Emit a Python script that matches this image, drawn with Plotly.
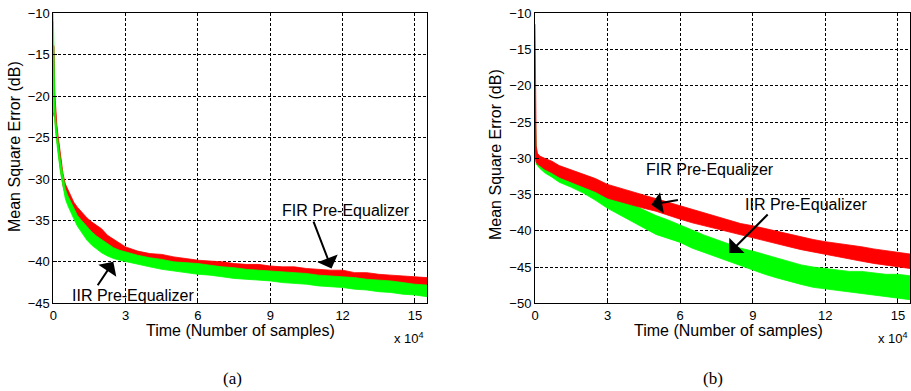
import plotly.graph_objects as go

W, H = 911, 391

# ---------- data (x in units of 10^4 samples, y in dB) ----------
a_x = [0, 0.03, 0.06, 0.1, 0.15, 0.2, 0.3, 0.4, 0.5, 0.6, 0.7, 0.85, 1.0, 1.2, 1.4, 1.6, 1.8, 2.0,
       2.25, 2.5, 2.75, 3.0, 3.5, 4.0, 4.5, 5.0, 5.5, 6.0, 6.5, 7.0, 7.5, 8.0, 8.5, 9.0, 9.5, 10.0,
       10.5, 11.0, 11.5, 12.0, 12.5, 13.0, 13.5, 14.0, 14.5, 15.0, 15.5]
a_fir_upper = [-13.8, -14, -19.5, -21.5, -23.5, -24.8, -27.2, -29.3, -30.6, -31.2, -31.9, -32.8, -33.4,
               -34.1, -34.7, -35.2, -35.6, -36.0, -36.8, -37.3, -37.7, -38.2, -38.7, -39.0, -39.1, -39.4,
               -39.6, -39.8, -39.9, -40.0, -40.2, -40.3, -40.3, -40.5, -40.6, -40.6, -40.8, -40.9, -41.0,
               -41.0, -41.3, -41.3, -41.5, -41.6, -41.7, -41.8, -41.9]
a_fir_lower = [-22, -22.5, -22.5, -24, -25.5, -26.6, -29, -30.8, -31.9, -32.6, -33.2, -34.0, -34.9,
               -35.6, -36.2, -36.8, -37.3, -37.7, -38.2, -38.5, -38.8, -39.0, -39.4, -39.7, -40.0, -40.2,
               -40.4, -40.6, -40.7, -40.9, -41.0, -41.1, -41.2, -41.4, -41.5, -41.6, -41.7, -41.8, -41.9,
               -42.0, -42.2, -42.3, -42.4, -42.6, -42.7, -42.9, -43.2]
a_iir_upper = [-10, -17, -20.5, -22.8, -24.5, -25.5, -27.8, -29.8, -31.2, -32.0, -32.6, -33.4, -34.4,
               -35.1, -35.8, -36.4, -36.9, -37.3, -37.9, -38.3, -38.6, -38.8, -39.2, -39.5, -39.7, -40.0,
               -40.1, -40.2, -40.4, -40.6, -40.7, -40.9, -41.0, -41.1, -41.2, -41.3, -41.4, -41.6, -41.7,
               -41.8, -41.9, -42.1, -42.2, -42.3, -42.5, -42.7, -42.8]
a_iir_lower = [-11, -20, -23, -24.5, -26.0, -27.0, -29.2, -31.0, -32.4, -33.2, -33.9, -34.8, -35.7,
               -36.6, -37.4, -38.0, -38.5, -38.9, -39.3, -39.6, -39.8, -40.0, -40.3, -40.6, -40.9, -41.1,
               -41.3, -41.5, -41.6, -41.8, -42.0, -42.1, -42.2, -42.3, -42.5, -42.6, -42.7, -42.9, -43.0,
               -43.1, -43.3, -43.4, -43.6, -43.7, -43.9, -44.0, -44.2]

b_x = [0, 0.02, 0.05, 0.1, 0.2, 0.4, 0.7, 1.0, 1.5, 2.0, 2.5, 3.0, 3.5, 4.0, 4.5, 5.0, 5.5, 6.0, 6.5,
       7.0, 7.5, 8.0, 8.5, 9.0, 9.5, 10.0, 10.5, 11.0, 11.5, 12.0, 12.5, 13.0, 13.5, 14.0, 14.5, 15.0, 15.5]
b_fir_upper = [-11.5, -24, -28.3, -29.3, -29.7, -30.0, -30.4, -31.0, -31.6, -32.2, -32.8, -33.6, -34.1,
               -34.6, -35.1, -35.6, -36.1, -36.6, -37.1, -37.6, -38.0, -38.5, -39.0, -39.3, -39.7, -40.1,
               -40.5, -40.9, -41.2, -41.5, -41.7, -42.0, -42.2, -42.5, -42.7, -43.0, -43.2]
b_fir_lower = [-29, -30, -30.5, -30.8, -31.0, -31.5, -32.0, -32.6, -33.3, -33.9, -34.6, -35.5, -36.0,
               -36.4, -36.9, -37.3, -37.8, -38.4, -38.9, -39.4, -39.8, -40.2, -40.6, -41.0, -41.4, -41.8,
               -42.2, -42.6, -43.0, -43.3, -43.6, -43.9, -44.2, -44.5, -44.8, -45.0, -45.2]
b_iir_upper = [-22, -24.5, -28.8, -29.5, -29.9, -30.3, -30.8, -31.5, -32.3, -33.0, -33.8, -34.8, -35.6,
               -36.4, -37.2, -37.9, -38.5, -39.2, -40.0, -40.6, -41.2, -41.8, -42.4, -42.8, -43.3, -43.8,
               -44.3, -44.7, -45.0, -45.2, -45.4, -45.6, -45.6, -45.8, -46.0, -46.0, -46.2]
b_iir_lower = [-29, -30.2, -30.8, -31.0, -31.4, -32.0, -32.6, -33.3, -34.0, -34.8, -35.8, -36.9, -37.8,
               -38.7, -39.6, -40.5, -41.0, -41.6, -42.4, -43.0, -43.6, -44.2, -44.8, -45.4, -46.0, -46.5,
               -47.0, -47.4, -47.8, -48.1, -48.3, -48.5, -48.7, -48.9, -49.1, -49.3, -49.5]

x_ticks = [0, 3, 6, 9, 12, 15]
x_tick_labels = ["0", "3", "6", "9", "12", "15"]
a_y_ticks = [-45, -40, -35, -30, -25, -20, -15, -10]
b_y_ticks = [-50, -45, -40, -35, -30, -25, -20, -15, -10]

RED = "#FF0000"
GREEN = "#00FF00"
SANS = "Liberation Sans, Arial, sans-serif"
SERIF = "Liberation Serif, Times New Roman, serif"


def band(x, upper, lower, color, xa, ya, name):
    return go.Scatter(
        x=list(x) + list(x)[::-1], y=list(upper) + list(lower)[::-1],
        fill="toself", fillcolor=color, mode="lines",
        line=dict(color=color, width=0.8), xaxis=xa, yaxis=ya,
        name=name, showlegend=False, hoverinfo="skip")


fig = go.Figure()
# panel (a): red first, green on top
fig.add_trace(band(a_x, a_fir_upper, a_fir_lower, RED, "x", "y", "FIR Pre-Equalizer"))
fig.add_trace(band(a_x, a_iir_upper, a_iir_lower, GREEN, "x", "y", "IIR Pre-Equalizer"))
# panel (b): green first, red on top
fig.add_trace(band(b_x, b_iir_upper, b_iir_lower, GREEN, "x2", "y2", "IIR Pre-Equalizer"))
fig.add_trace(band(b_x, b_fir_upper, b_fir_lower, RED, "x2", "y2", "FIR Pre-Equalizer"))

ax_common = dict(
    showline=True, mirror=True, linecolor="black", linewidth=1,
    showgrid=True, gridcolor="black", gridwidth=1, griddash="3px,2px",
    ticks="inside", ticklen=4, tickcolor="black", zeroline=False,
    tickfont=dict(family=SANS, size=13, color="black"), automargin=False,
)

pxl = lambda p: p / W
pyl = lambda p: 1 - p / H

fig.update_layout(
    width=W, height=H, margin=dict(l=0, r=0, t=0, b=0),
    paper_bgcolor="white", plot_bgcolor="white", showlegend=False,
    xaxis=dict(domain=[pxl(53.3), pxl(427)], range=[0, 15.5], tickvals=x_ticks,
               ticktext=x_tick_labels, anchor="y", **ax_common),
    yaxis=dict(domain=[pyl(303.3), pyl(13.3)], range=[-45, -10], tickvals=a_y_ticks,
               anchor="x", **ax_common),
    xaxis2=dict(domain=[pxl(535), pxl(910)], range=[0, 15.5], tickvals=x_ticks,
                ticktext=x_tick_labels, anchor="y2", **ax_common),
    yaxis2=dict(domain=[pyl(303.3), pyl(13.3)], range=[-50, -10], tickvals=b_y_ticks,
                anchor="x2", **ax_common),
)

anns = []
# axis titles
for cx, cy in [(15, 147), (495, 155)]:
    anns.append(dict(text="Mean Square Error (dB)", x=pxl(cx), y=pyl(cy), xref="paper", yref="paper",
                     textangle=-90, showarrow=False, font=dict(family=SANS, size=16, color="black"),
                     xanchor="center", yanchor="middle"))
for cx in [240, 728]:
    anns.append(dict(text="Time (Number of samples)", x=pxl(cx), y=pyl(330), xref="paper", yref="paper",
                     showarrow=False, font=dict(family=SANS, size=16, color="black"),
                     xanchor="center", yanchor="middle"))
for rx in [426, 910]:
    anns.append(dict(text="x 10<sup>4</sup>", x=pxl(rx), y=pyl(338), xref="paper", yref="paper",
                     showarrow=False, font=dict(family=SANS, size=13, color="black"),
                     xanchor="right", yanchor="middle"))
# captions
for cx, t in [(233, "(a)"), (713, "(b)")]:
    anns.append(dict(text=t, x=pxl(cx), y=pyl(378), xref="paper", yref="paper", showarrow=False,
                     font=dict(family=SERIF, size=17, color="black"), xanchor="center", yanchor="middle"))

# callouts (text + arrow) in data coordinates
callouts = [
    ("x", "y", "FIR Pre-Equalizer", 12.16, -33.8, 11.54, -40.8, 10.77, -34.96),
    ("x", "y", "IIR Pre-Equalizer", 3.32, -44.1, 2.49, -40.0, 1.8, -43.0),
    ("x2", "y2", "FIR Pre-Equalizer", 7.24, -31.6, 4.81, -36.4, 5.97, -35.7),
    ("x2", "y2", "IIR Pre-Equalizer", 11.2, -36.4, 8.03, -43.06, 9.68, -37.55),
]
for xa, ya, t, tx, ty, hx, hy, sx, sy in callouts:
    anns.append(dict(text=t, x=tx, y=ty, xref=xa, yref=ya, showarrow=False,
                     font=dict(family=SANS, size=16, color="black"), xanchor="center", yanchor="middle"))
    anns.append(dict(text="", x=hx, y=hy, xref=xa, yref=ya, ax=sx, ay=sy, axref=xa, ayref=ya,
                     showarrow=True, arrowhead=1, arrowsize=1.8, arrowwidth=2, arrowcolor="black",
                     standoff=0, startstandoff=0))

fig.update_layout(annotations=anns)
fig.write_html(
    "out.html",
    config={"displayModeBar": False},
    post_script="document.body.style.margin='0';document.body.style.overflow='hidden';",
)
